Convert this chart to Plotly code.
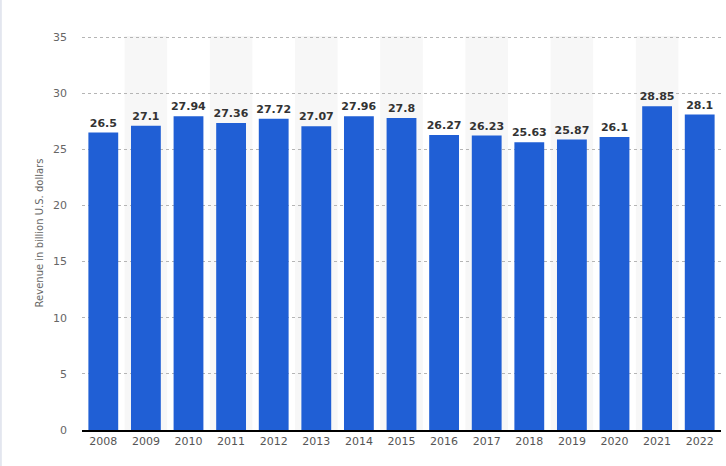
import plotly.graph_objects as go

years = ["2008", "2009", "2010", "2011", "2012", "2013", "2014", "2015",
         "2016", "2017", "2018", "2019", "2020", "2021", "2022"]
revenue = [26.5, 27.1, 27.94, 27.36, 27.72, 27.07, 27.96, 27.8,
           26.27, 26.23, 25.63, 25.87, 26.1, 28.85, 28.1]
y_ticks = [0, 5, 10, 15, 20, 25, 30, 35]

fig = go.Figure()

fig.add_trace(go.Bar(
    x=years,
    y=revenue,
    marker=dict(color="#205fd5", line=dict(width=0)),
    text=[f"{v:g}" for v in revenue],
    textposition="outside",
    constraintext="none",
    textfont=dict(family="DejaVu Sans", size=11, color="#333333"),
    texttemplate="<b>%{text}</b>",
    cliponaxis=False,
    hoverinfo="skip",
))

# alternating light bands behind every second year
for i, yr in enumerate(years):
    if i % 2 == 1:
        fig.add_vrect(x0=i - 0.5, x1=i + 0.5, fillcolor="#f7f7f7",
                      line_width=0, layer="below")

# thin border down the left edge of the page
fig.add_shape(type="line", xref="paper", yref="paper",
              x0=-0.127, x1=-0.127, y0=-0.1, y1=1.1,
              line=dict(color="#e3e6ef", width=2))

fig.update_layout(
    width=726,
    height=466,
    margin=dict(l=82, r=5, t=36, b=36),
    plot_bgcolor="white",
    paper_bgcolor="white",
    bargap=0.3,
    showlegend=False,
    font=dict(family="DejaVu Sans", color="#666666"),
    xaxis=dict(
        type="category",
        automargin=False,
        showgrid=False,
        showline=True,
        linecolor="#000000",
        linewidth=1.5,
        ticks="",
        tickfont=dict(size=11, color="#555555"),
    ),
    yaxis=dict(
        range=[0, 35.1],
        tickvals=y_ticks,
        automargin=True,
        showgrid=True,
        gridcolor="#b5b5b5",
        griddash="dot",
        gridwidth=1,
        zeroline=False,
        ticks="",
        ticklabelstandoff=14,
        tickfont=dict(size=11, color="#666666"),
        title=dict(text="Revenue in billion U.S. dollars",
                   font=dict(size=10, color="#666666"), standoff=7),
    ),
)

fig.write_html("out.html", config={"displayModeBar": False},
               post_script="document.body.style.margin='0';")
